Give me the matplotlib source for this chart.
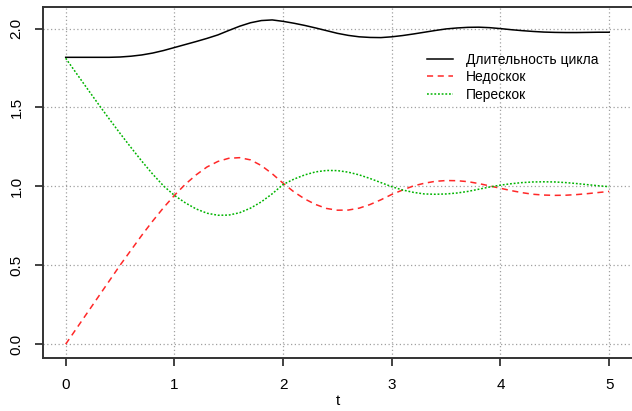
import numpy as np
import matplotlib.pyplot as plt

plt.rcParams['font.family'] = ['Liberation Sans', 'DejaVu Sans']

t = [0.0, 0.1, 0.2, 0.3, 0.4, 0.5, 0.6, 0.7, 0.8, 0.9,
     1.0, 1.1, 1.2, 1.3, 1.4, 1.5, 1.6, 1.7, 1.8, 1.9,
     2.0, 2.1, 2.2, 2.3, 2.4, 2.5, 2.6, 2.7, 2.8, 2.9,
     3.0, 3.1, 3.2, 3.3, 3.4, 3.5, 3.6, 3.7, 3.8, 3.9,
     4.0, 4.1, 4.2, 4.3, 4.4, 4.5, 4.6, 4.7, 4.8, 4.9, 5.0]

# Длительность цикла
cycle = [1.818, 1.818, 1.818, 1.818, 1.818, 1.820, 1.825, 1.833, 1.845, 1.861,
         1.880, 1.899, 1.918, 1.938, 1.960, 1.988, 2.015, 2.037, 2.051, 2.055,
         2.046, 2.034, 2.020, 2.004, 1.987, 1.970, 1.957, 1.948, 1.944, 1.943,
         1.948, 1.956, 1.966, 1.977, 1.988, 1.998, 2.004, 2.008, 2.009, 2.006,
         2.000, 1.993, 1.987, 1.982, 1.978, 1.976, 1.975, 1.975, 1.976, 1.977, 1.977]

# Недоскок
under = [0.000, 0.100, 0.200, 0.300, 0.400, 0.500, 0.595, 0.690, 0.780, 0.865,
         0.943, 1.013, 1.073, 1.123, 1.158, 1.178, 1.182, 1.168, 1.132, 1.080,
         1.020, 0.965, 0.920, 0.885, 0.860, 0.849, 0.850, 0.862, 0.885, 0.915,
         0.949, 0.977, 1.003, 1.020, 1.032, 1.037, 1.036, 1.030, 1.018, 1.003,
         0.988, 0.973, 0.960, 0.950, 0.945, 0.943, 0.944, 0.948, 0.954, 0.961, 0.968]

# Перескок
over = [1.812, 1.715, 1.618, 1.522, 1.428, 1.336, 1.247, 1.160, 1.078, 1.003,
        0.943, 0.896, 0.857, 0.830, 0.817, 0.818, 0.833, 0.862, 0.902, 0.953,
        1.012, 1.046, 1.073, 1.092, 1.101, 1.100, 1.090, 1.073, 1.050, 1.024,
        0.998, 0.977, 0.962, 0.952, 0.950, 0.952, 0.958, 0.968, 0.982, 0.996,
        1.008, 1.017, 1.024, 1.028, 1.029, 1.028, 1.024, 1.018, 1.011, 1.004, 0.998]

labels = ['Длительность цикла', 'Недоскок', 'Перескок']

fig = plt.figure(figsize=(6.32, 4.11), dpi=100)
ax = fig.add_axes([0.068, 0.13, 0.932, 0.853])

ax.plot(t, cycle, color='black', linewidth=1.1, label=labels[0])
ax.plot(t, under, color='#ff2828', linewidth=1.1, linestyle=(0, (4, 3)), label=labels[1])
ax.plot(t, over, color='#00b400', linewidth=1.1, linestyle=(0, (1.2, 1.2)), label=labels[2])

ax.set_xlim(-0.209, 5.21)
ax.set_ylim(-0.085, 2.137)
ax.set_xticks([0, 1, 2, 3, 4, 5])
ax.set_yticks([0.0, 0.5, 1.0, 1.5, 2.0])
ax.set_yticklabels(['0.0', '0.5', '1.0', '1.5', '2.0'], rotation=90, va='center')
ax.grid(True, color='#a0a0a0', linestyle=(0, (1, 2)), linewidth=0.9)

for side in ['left', 'bottom', 'top']:
    ax.spines[side].set_color('#333333')
    ax.spines[side].set_linewidth(1.4)
ax.spines['right'].set_visible(False)
ax.tick_params(axis='both', direction='out', length=6, width=1.3, color='#333333',
               labelsize=11, pad=9)
ax.tick_params(axis='y', pad=8)

ax.set_xlabel('t', fontsize=11, labelpad=1)

ax.legend(loc='upper left', bbox_to_anchor=(0.652, 0.87), frameon=False,
          fontsize=10, handlelength=1.9, handletextpad=0.9, labelspacing=0.25,
          borderpad=0, borderaxespad=0)

fig.savefig('out.png', dpi=100)
